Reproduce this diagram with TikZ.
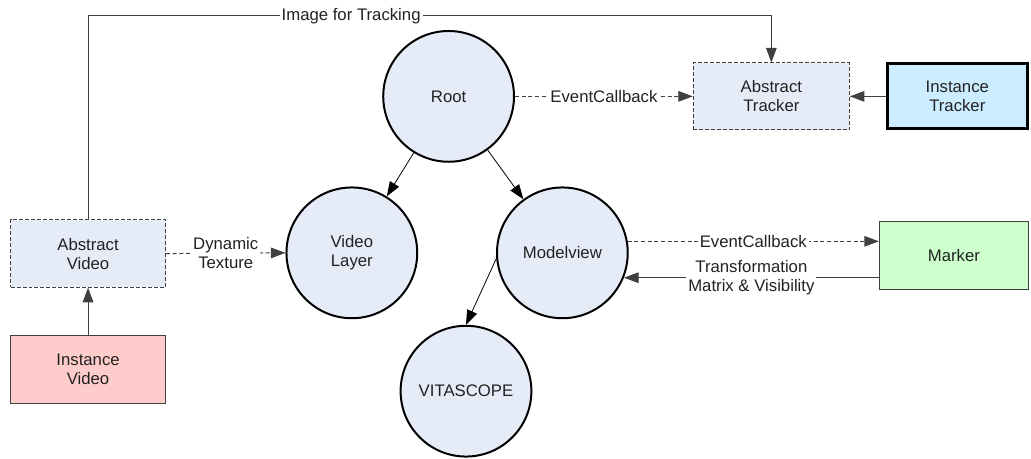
\documentclass[tikz,border=0pt]{standalone}
\usepackage{fontspec}
\setmainfont{Liberation Sans}
\definecolor{nodefill}{RGB}{230, 236, 247}
\definecolor{videored}{RGB}{255, 204, 204}
\definecolor{trackblue}{RGB}{204, 236, 255}
\definecolor{markgreen}{RGB}{204, 255, 204}
\definecolor{linegray}{RGB}{64, 64, 64}
\definecolor{textgray}{RGB}{34, 34, 34}
\usepackage{tikz}
\usetikzlibrary{arrows.meta, positioning}
\tikzset{
  circnode/.style={circle, draw=black, line width=1.5pt, fill=nodefill, minimum size=3.46cm, inner sep=0pt, align=center, text=textgray},
  absbox/.style={draw=linegray, dash pattern=on 3pt off 1.5pt, line width=0.7pt, fill=nodefill, minimum width=4.1cm, minimum height=1.78cm, inner sep=0pt, align=center, text=textgray},
  instbox/.style={draw=linegray, line width=0.9pt, minimum width=4.1cm, minimum height=1.8cm, inner sep=0pt, align=center, text=textgray},
  conn/.style={-{Triangle[length=11pt, width=8pt]}, draw=linegray, line width=0.75pt},
  dashconn/.style={conn, dash pattern=on 3pt off 2pt},
  lbl/.style={fill=white, inner sep=1.5pt, text=textgray, align=center},
}

\begin{document}
\begin{tikzpicture}[font=\fontsize{12.6pt}{14.3pt}\selectfont]
  \useasboundingbox (0, 0) rectangle (27.28, -12.12);

  % Scene graph
  \node[circnode] (root) at (11.87, -2.55) {Root};
  \node[circnode] (videolayer) at (9.31, -6.69) {Video\\Layer};
  \node[circnode] (modelview) at (14.88, -6.69) {Modelview};
  \node[circnode] (vitascope) at (12.33, -10.35) {VITASCOPE};

  % Video side
  \node[absbox] (absvideo) at (2.33, -6.71) {Abstract\\Video};
  \node[instbox, fill=videored] (instvideo) at (2.33, -9.78) {Instance\\Video};

  % Tracker side
  \node[absbox, minimum width=4.13cm, minimum height=1.77cm] (abstracker) at (20.41, -2.55) {Abstract\\Tracker};
  \node[instbox, fill=trackblue, draw=black, line width=2.25pt, minimum width=3.7cm, minimum height=1.72cm] (insttracker) at (25.33, -2.55) {Instance\\Tracker};
  \node[instbox, fill=markgreen, minimum width=3.94cm] (marker) at (25.24, -6.76) {Marker};

  \coordinate (toprow) at (0, -0.415);

  % Connectors
  \draw[conn] (instvideo.north) -- (absvideo.south);
  \draw[conn] (absvideo.north) -- (absvideo.north |- toprow)
    -- node[lbl, pos=0.385] {Image for Tracking} (abstracker.north |- toprow) -- (abstracker.north);
  \draw[dashconn] (absvideo.east) -- node[lbl] {Dynamic\\Texture} (videolayer.west);
  \draw[dashconn] (root.east) -- node[lbl] {EventCallback} (abstracker.west);
  \draw[conn] (insttracker.west) -- (abstracker.east);
  \draw[conn, draw=black, line width=0.6pt] (root) -- (videolayer);
  \draw[conn, draw=black, line width=0.6pt] (root) -- (modelview);
  \draw[conn, draw=black, line width=0.6pt] (modelview.185) -- (vitascope.north);
  \draw[dashconn] (modelview.10) -- node[lbl] {EventCallback} (marker.west |- modelview.10);
  \draw[conn] (marker.west |- modelview.-22) -- node[lbl] {Transformation\\Matrix \& Visibility} (modelview.-22);
\end{tikzpicture}
\end{document}
